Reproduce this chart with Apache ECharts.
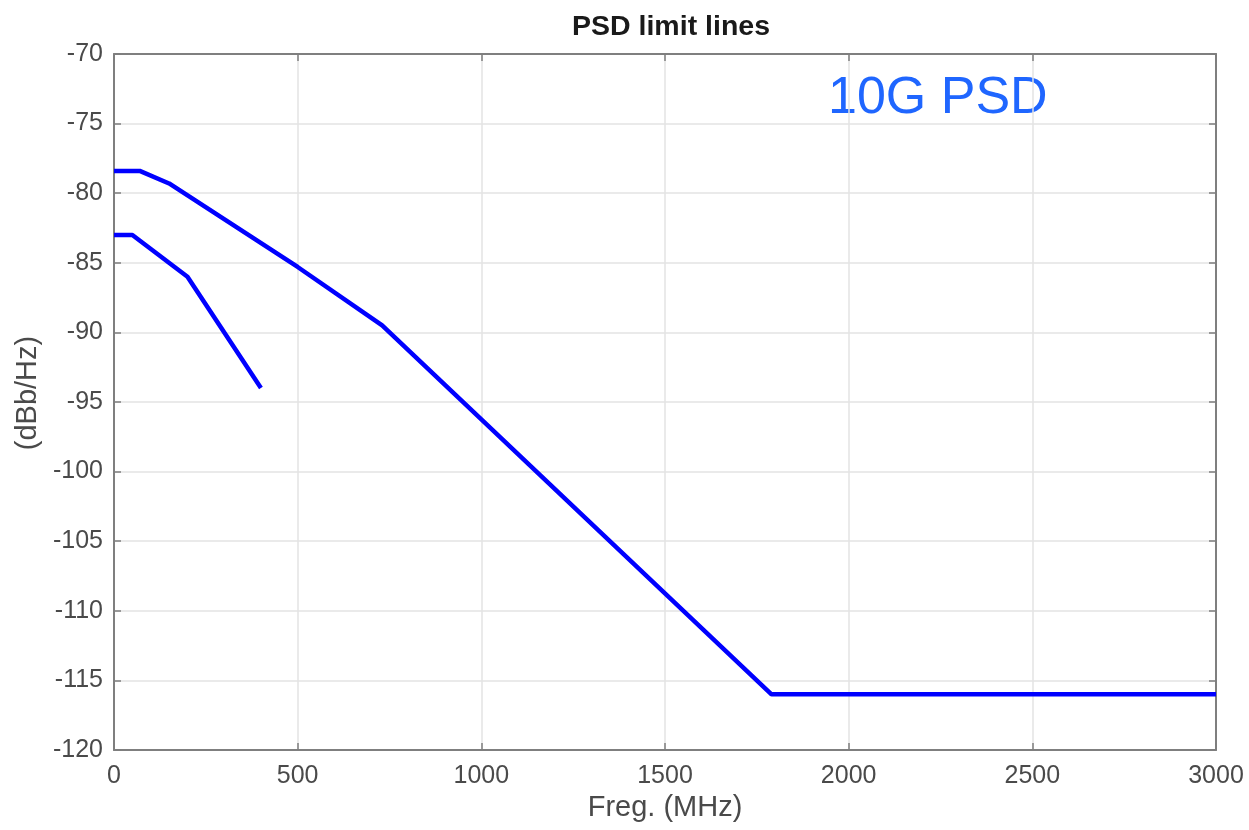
<!DOCTYPE html>
<html>
<head>
<meta charset="utf-8">
<style>
  html, body { margin: 0; padding: 0; background: #fff; }
  #chart { width: 1249px; height: 830px; }
</style>
<script src="https://cdn.jsdelivr.net/npm/echarts@6/dist/echarts.min.js"></script>
</head>
<body>
<div id="chart"></div>
<script>
// Data
const upperFreq = [0, 70, 150, 500, 730, 1790, 3000];
const upperPsd  = [-78.4, -78.4, -79.3, -85.3, -89.5, -116, -116];
const lowerFreq = [0, 50, 200, 400];
const lowerPsd  = [-83, -83, -86, -94];
const xTicks = [0, 500, 1000, 1500, 2000, 2500, 3000];
const yTicks = [-120, -115, -110, -105, -100, -95, -90, -85, -80, -75, -70];

const chart = echarts.init(document.getElementById('chart'));
const font = 'Liberation Sans, Arial, Helvetica, sans-serif';
const axisGrey = '#7f7f7f';
const textGrey = '#4a4a4a';

function pairs(xs, ys) { return xs.map((x, i) => [x, ys[i]]); }

const gridLeft = 114, gridRight = 33, gridTop = 54, gridBottom = 80;

const option = {
  animation: false,
  backgroundColor: '#ffffff',
  title: {
    text: 'PSD limit lines',
    left: 666,
    textAlign: 'center',
    top: 8,
    textStyle: { fontFamily: font, fontSize: 28.5, fontWeight: 'bold', color: '#1a1a1a' }
  },
  grid: { left: gridLeft, right: gridRight, top: gridTop, bottom: gridBottom, containLabel: false },
  xAxis: [{
    type: 'value', min: xTicks[0], max: xTicks[xTicks.length - 1], interval: 500,
    name: 'Freg. (MHz)', nameLocation: 'middle', nameGap: 43,
    nameTextStyle: { fontFamily: font, fontSize: 29, color: textGrey },
    axisLine: { show: true, lineStyle: { color: axisGrey, width: 2 } },
    axisTick: { show: true, inside: true, length: 7, lineStyle: { color: axisGrey, width: 1.5 } },
    axisLabel: { fontFamily: font, fontSize: 25, color: textGrey, margin: 14, formatter: v => String(v) },
    splitLine: { show: true, lineStyle: { color: '#e3e3e3', width: 1.5 } }
  }, {
    type: 'value', position: 'top', min: xTicks[0], max: xTicks[xTicks.length - 1], interval: 500,
    axisLine: { show: true, onZero: false, lineStyle: { color: axisGrey, width: 2 } },
    axisTick: { show: true, inside: true, length: 7, lineStyle: { color: axisGrey, width: 1.5 } },
    axisLabel: { show: false },
    splitLine: { show: false }
  }],
  yAxis: [{
    type: 'value', min: yTicks[0], max: yTicks[yTicks.length - 1], interval: 5,
    name: '(dBb/Hz)', nameLocation: 'middle', nameGap: 72,
    nameTextStyle: { fontFamily: font, fontSize: 29, color: textGrey, padding: [0, 0, 0, 18] },
    axisLine: { show: true, onZero: false, lineStyle: { color: axisGrey, width: 2 } },
    axisTick: { show: true, inside: true, length: 7, lineStyle: { color: axisGrey, width: 1.5 } },
    axisLabel: { fontFamily: font, fontSize: 25, color: textGrey, margin: 11 },
    splitLine: { show: true, lineStyle: { color: '#e3e3e3', width: 1.5 } }
  }, {
    type: 'value', position: 'right', min: yTicks[0], max: yTicks[yTicks.length - 1], interval: 5,
    axisLine: { show: true, onZero: false, lineStyle: { color: axisGrey, width: 2 } },
    axisTick: { show: true, inside: true, length: 7, lineStyle: { color: axisGrey, width: 1.5 } },
    axisLabel: { show: false },
    splitLine: { show: false }
  }],
  series: [{
    name: 'upper', type: 'line', data: pairs(upperFreq, upperPsd),
    showSymbol: false, symbol: 'none', xAxisIndex: 0, yAxisIndex: 0,
    lineStyle: { color: '#0000ff', width: 4.5 }
  }, {
    name: 'lower', type: 'line', data: pairs(lowerFreq, lowerPsd),
    showSymbol: false, symbol: 'none', xAxisIndex: 0, yAxisIndex: 0,
    lineStyle: { color: '#0000ff', width: 4.5 }
  }],
  graphic: [{
    type: 'text', left: 828, top: 73,
    style: { text: '10G PSD', fontFamily: font, fontSize: 52, fill: '#1f66ff' }
  }]
};
chart.setOption(option);
</script>
</body>
</html>
